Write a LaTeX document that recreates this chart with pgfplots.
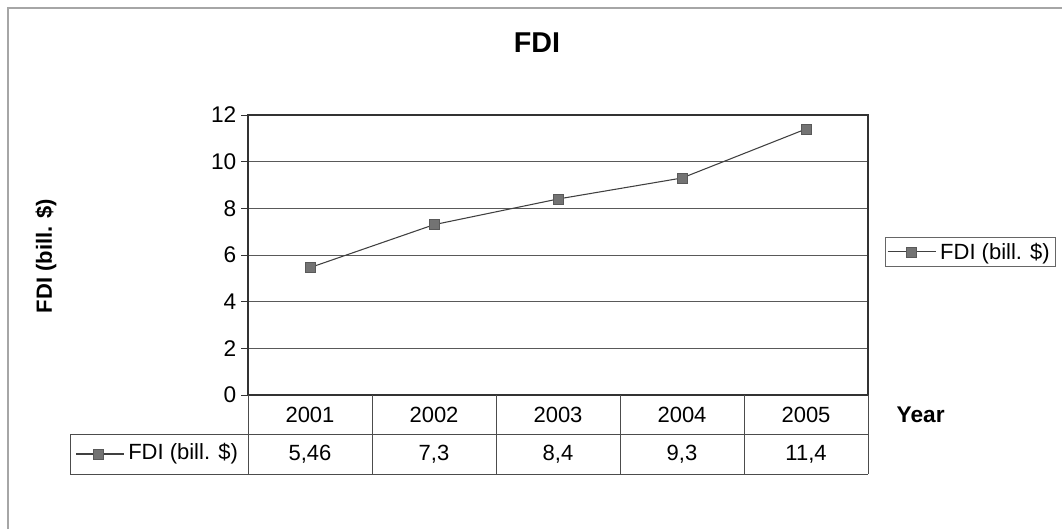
\documentclass[border=0pt]{standalone}
\usepackage{pgfplots}
\pgfplotsset{compat=1.18}
\usepackage{fontspec}
\setmainfont{Liberation Sans}
\begin{document}
\begin{tikzpicture}
\path[use as bounding box] (0,0) rectangle (796.5pt,-396.75pt);
\begin{axis}[
  at={(186pt,-296.25pt)}, anchor=south west,
  scale only axis, width=465pt, height=210pt,
  xmin=0.5, xmax=5.5, ymin=0, ymax=12,
  xtick=\empty, ytick={0,2,...,12}, ytick pos=left,
  ymajorgrids, grid style={black!65, line width=0.6pt},
  axis line style={black!80, line width=0.8pt},
  tick style={black!80, line width=0.6pt},
  tick align=outside, major tick length=5.25pt,
  yticklabel style={font=\fontsize{17}{20}\selectfont},
  /pgf/number format/assume math mode=true,
  clip=false,
  legend style={at={(axis description cs:1.027,0.564)}, anchor=north west,
    draw=black!60, line width=0.6pt, font=\fontsize{16.5}{19}\selectfont,
    inner xsep=1.5pt, inner ysep=2pt, nodes={inner xsep=3pt}},
  legend image code/.code={\draw[mark repeat=2,mark phase=2,#1] plot coordinates {(0pt,0pt) (18pt,0pt) (36pt,0pt)};},
]
\addplot[black!75, line width=0.8pt, mark=square*, mark size=3.8pt,
  mark options={fill=black!55, draw=black!65, line width=0.4pt}]
  coordinates {(1,5.46) (2,7.3) (3,8.4) (4,9.3) (5,11.4)};
\addlegendentry{FDI (bill. \$)}
\end{axis}
\begin{scope}[x=0.75pt, y=-0.75pt]
  % outer frame
  \draw[gray!70, line width=0.8pt] (8,529) -- (8,8) -- (1062,8);
  % title and labels
  \node[font=\fontsize{21.5}{25}\selectfont\bfseries] at (537,43) {FDI};
  \node[font=\fontsize{16.5}{20}\selectfont\bfseries, rotate=90] at (46,256) {FDI (bill. \$)};
  \node[font=\fontsize{17}{20}\selectfont\bfseries, anchor=west] at (892,415) {Year};
  % data table
  \draw[black!70, line width=0.6pt]
    (70,434.5) -- (868,434.5)
    (70,474) -- (868,474)
    (70,434.5) -- (70,474)
    (248,395) -- (248,474)
    (372,395) -- (372,474)
    (496,395) -- (496,474)
    (620,395) -- (620,474)
    (744,395) -- (744,474)
    (868,395) -- (868,474);
  \begin{scope}[every node/.style={font=\fontsize{16.5}{19}\selectfont}]
    \node at (310,415) {2001};
    \node at (434,415) {2002};
    \node at (558,415) {2003};
    \node at (682,415) {2004};
    \node at (806,415) {2005};
    \node at (310,454) {5,46};
    \node at (434,454) {7,3};
    \node at (558,454) {8,4};
    \node at (682,454) {9,3};
    \node at (806,454) {11,4};
    \node[anchor=west, inner xsep=0pt] at (128,454) {FDI (bill. \$)};
  \end{scope}
  \draw[black!75, line width=0.8pt] (76,454) -- (124,454);
  \filldraw[fill=black!55, draw=black!65, line width=0.4pt] (93,449) rectangle (103,459);
\end{scope}
\end{tikzpicture}
\end{document}
